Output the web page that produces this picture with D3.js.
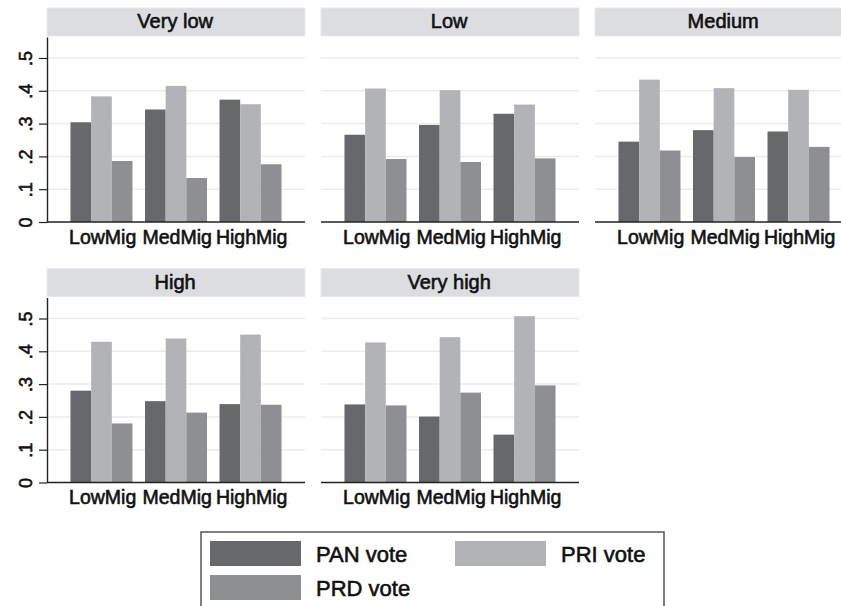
<!DOCTYPE html>
<html>
<head>
<meta charset="utf-8">
<script src="https://cdn.jsdelivr.net/npm/d3@7"></script>
<style>
    body { margin: 0; background: #fff; }
    text { font-family: "Liberation Sans", Arial, sans-serif; fill: #111; }
    .heavy { stroke: #111; stroke-width: 0.6px; }
</style>
</head>
<body>
<div id="chart"></div>
<script>
// panels (by level) and groups inside each panel
const panels = ['Very low', 'Low', 'Medium', 'High', 'Very high'];
const groups = ['LowMig', 'MedMig', 'HighMig'];
const parties = ['PAN vote', 'PRI vote', 'PRD vote'];
const yTicks = [0, 0.1, 0.2, 0.3, 0.4, 0.5];
const yTickLabels = ['0', '.1', '.2', '.3', '.4', '.5'];
// one row per panel, one value per group
const panVote = [
    [0.304, 0.343, 0.373],
    [0.266, 0.296, 0.330],
    [0.245, 0.280, 0.276],
    [0.280, 0.248, 0.239],
    [0.238, 0.201, 0.146]
];
const priVote = [
    [0.383, 0.415, 0.359],
    [0.407, 0.402, 0.358],
    [0.434, 0.408, 0.403],
    [0.429, 0.439, 0.451],
    [0.427, 0.443, 0.507]
];
const prdVote = [
    [0.186, 0.134, 0.176],
    [0.192, 0.183, 0.194],
    [0.218, 0.198, 0.229],
    [0.180, 0.213, 0.237],
    [0.235, 0.274, 0.296]
];
const series = [panVote, priVote, prdVote];

const width = 841, height = 606;
const plotW = 258, plotH = 185, headH = 28;
const colors = d3.scaleOrdinal().domain(parties).range(['#67686c', '#b2b3b7', '#8e8f93']);

const svg = d3.select('#chart').append('svg')
    .attr('width', width)
    .attr('height', height);

// scales shared by all panels
const yScale = d3.scaleLinear().domain([0, 0.564]).range([plotH, 0]);
const xScale = d3.scaleBand().domain(groups).range([0, plotW])
    .paddingInner(0.168).paddingOuter(0.315);
const pScale = d3.scaleBand().domain(parties).range([0, xScale.bandwidth()]);

// label with the small trailing dot
function dotted(sel, label) {
    sel.append('tspan').text(label);
    sel.append('tspan').text('.').style('font-size', '6px').style('fill', '#aaa').style('stroke', 'none');
}

panels.forEach((name, pi) => {
    const col = pi % 3, row = Math.floor(pi / 3);
    const x0 = 47 + col * 274;
    const top = 8 + row * 260.5;
    const g = svg.append('g').attr('transform', `translate(${x0}, ${top})`);

    // header strip
    g.append('rect')
        .attr('x', 0).attr('y', 0)
        .attr('width', plotW).attr('height', headH)
        .attr('fill', '#dcdde0')
        .attr('stroke', '#e9e9ea').attr('stroke-width', 1);
    g.append('text')
        .attr('class', 'heavy')
        .attr('x', plotW / 2).attr('y', 20)
        .attr('text-anchor', 'middle')
        .style('font-size', '20px')
        .call(dotted, name);

    const plot = g.append('g').attr('transform', `translate(0, ${headH + 1})`);

    // grid lines
    plot.selectAll('.grid')
        .data(yTicks.filter(d => d > 0))
        .join('line')
        .attr('class', 'grid')
        .attr('x1', 0).attr('x2', plotW)
        .attr('y1', d => yScale(d)).attr('y2', d => yScale(d))
        .attr('stroke', '#ebebeb')
        .attr('stroke-width', 1.5);

    // bars
    const grp = plot.selectAll('.grp')
        .data(groups)
        .join('g')
        .attr('class', 'grp')
        .attr('transform', d => `translate(${xScale(d)}, 0)`);
    grp.selectAll('rect')
        .data((d, gi) => parties.map((p, si) => ({party: p, value: series[si][pi][gi]})))
        .join('rect')
        .attr('x', d => pScale(d.party))
        .attr('width', pScale.bandwidth())
        .attr('y', d => yScale(d.value))
        .attr('height', d => yScale(0) - yScale(d.value))
        .attr('fill', d => colors(d.party));

    // baseline
    plot.append('line')
        .attr('x1', 0).attr('x2', plotW)
        .attr('y1', yScale(0)).attr('y2', yScale(0))
        .attr('stroke', '#222')
        .attr('stroke-width', 1.4);

    // x labels
    plot.selectAll('.xlab')
        .data(groups)
        .join('text')
        .attr('class', 'xlab heavy')
        .attr('x', d => xScale(d) + xScale.bandwidth() / 2 + 2)
        .attr('y', yScale(0) + 21.5)
        .attr('text-anchor', 'middle')
        .style('font-size', '19.5px')
        .each(function(d) { d3.select(this).call(dotted, d); });

    // y axis on the first column only
    if (col === 0) {
        const yAxis = d3.axisLeft(yScale)
            .tickValues(yTicks)
            .tickFormat((d, i) => yTickLabels[i])
            .tickSize(8)
            .tickSizeOuter(0);
        const yAxisG = plot.append('g').call(yAxis)
            .attr('font-size', null)
            .attr('font-family', null);
        yAxisG.select('.domain').attr('stroke', '#222').attr('stroke-width', 1.4);
        yAxisG.selectAll('.tick line').attr('stroke', '#222').attr('stroke-width', 1.2);
        yAxisG.selectAll('.tick text')
            .attr('class', 'heavy')
            .attr('x', null).attr('dy', null)
            .attr('transform', 'translate(-15, 0) rotate(-90)')
            .attr('text-anchor', 'middle')
            .style('font-size', '18px')
            .style('fill', '#111');
    }
});

// legend
const legend = svg.append('g').attr('transform', 'translate(201, 532)');
legend.append('rect')
    .attr('x', 0).attr('y', 0)
    .attr('width', 463).attr('height', 100)
    .attr('fill', 'none')
    .attr('stroke', '#555')
    .attr('stroke-width', 1.5);
const legendPos = [[9, 9], [254, 9], [9, 43]];
const items = legend.selectAll('.item')
    .data(parties)
    .join('g')
    .attr('class', 'item')
    .attr('transform', (d, i) => `translate(${legendPos[i][0]}, ${legendPos[i][1]})`);
items.append('rect')
    .attr('width', 91).attr('height', 25)
    .attr('fill', d => colors(d));
items.append('text')
    .attr('class', 'heavy')
    .attr('x', 106).attr('y', 21)
    .style('font-size', '22px')
    .each(function(d) { d3.select(this).call(dotted, d); });
</script>
</body>
</html>
